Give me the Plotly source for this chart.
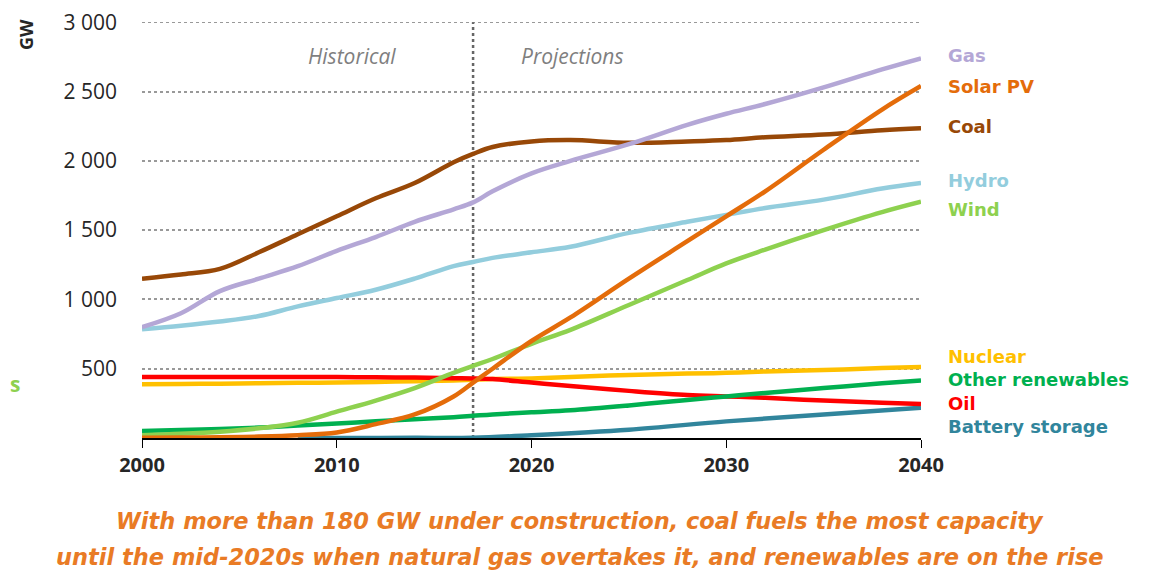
import plotly.graph_objects as go

# installed capacity, GW
years = [2000, 2002, 2004, 2006, 2008, 2010, 2012, 2014, 2016, 2017, 2018,
         2020, 2022, 2025, 2028, 2030, 2032, 2035, 2038, 2040]

gas = [800, 900, 1060, 1150, 1240, 1350, 1450, 1560, 1650, 1700, 1780,
       1910, 2000, 2120, 2260, 2340, 2410, 2530, 2660, 2740]
solar = [2, 3, 5, 10, 20, 40, 100, 170, 300, 400, 500,
         700, 870, 1150, 1420, 1600, 1780, 2080, 2370, 2540]
coal = [1150, 1180, 1220, 1340, 1470, 1600, 1730, 1840, 1990, 2050, 2100,
        2140, 2150, 2130, 2140, 2150, 2170, 2190, 2220, 2235]
hydro = [785, 810, 840, 880, 950, 1010, 1070, 1150, 1240, 1270, 1300,
         1340, 1380, 1480, 1560, 1610, 1660, 1720, 1800, 1840]
wind = [20, 30, 45, 70, 110, 190, 270, 360, 470, 520, 570,
        680, 780, 960, 1140, 1260, 1360, 1500, 1630, 1705]
nuclear = [388, 390, 392, 395, 398, 400, 405, 410, 415, 420, 425,
           430, 440, 455, 465, 470, 480, 490, 505, 512]
other_ren = [50, 58, 65, 75, 90, 105, 120, 135, 150, 160, 170,
             185, 200, 235, 275, 300, 325, 360, 395, 415]
oil = [440, 440, 440, 440, 440, 440, 438, 436, 432, 430, 425,
       400, 375, 340, 310, 300, 290, 270, 255, 245]
batt_years = [2008, 2010, 2014, 2017, 2020, 2025, 2030, 2035, 2040]
battery = [0, 0, 1, 2, 20, 60, 120, 170, 218]

colors = {"Gas": "#B4A7D6", "Solar PV": "#E46C0A", "Coal": "#984807",
          "Hydro": "#93CDDD", "Wind": "#8ED14F", "Nuclear": "#FFC000",
          "Other renewables": "#00B050", "Oil": "#FF0000",
          "Battery storage": "#31859C"}
values = {"Gas": gas, "Solar PV": solar, "Coal": coal, "Hydro": hydro,
          "Wind": wind, "Nuclear": nuclear, "Other renewables": other_ren,
          "Oil": oil}
label_y = {"Gas": 2760, "Solar PV": 2538, "Coal": 2250, "Hydro": 1860,
           "Wind": 1650}
bottom_labels = ["Nuclear", "Other renewables", "Oil", "Battery storage"]

fig = go.Figure()

# top gridline (plotly drops the one sitting on the plot edge)
fig.add_shape(type="line", x0=0, x1=1, xref="paper", y0=3000, y1=3000,
              line=dict(color="#999999", width=1.5, dash="dot"), layer="below")
# historical / projections divider
fig.add_shape(type="line", x0=2017, x1=2017, y0=0, y1=3000,
              line=dict(color="#666666", width=2.5, dash="dot"), layer="below")

fig.add_trace(go.Scatter(x=batt_years, y=battery, mode="lines", line_shape="spline",
                         line=dict(color=colors["Battery storage"], width=4.5)))
for name in ["Nuclear", "Oil", "Other renewables", "Hydro", "Coal", "Gas", "Wind", "Solar PV"]:
    fig.add_trace(go.Scatter(x=years, y=values[name], mode="lines", line_shape="spline",
                             line=dict(color=colors[name], width=4.5), name=name))

label_font = dict(family="DejaVu Sans", size=18)
for name, yv in label_y.items():
    fig.add_annotation(x=1, xref="paper", xshift=25, y=yv, yref="y",
                       text="<b>" + name + "</b>", showarrow=False,
                       xanchor="left", yanchor="middle",
                       font=dict(color=colors[name], **label_font))
# tightly stacked labels as one block
block = "<br>".join('<span style="color:%s"><b>%s</b></span>' % (colors[n], n)
                    for n in bottom_labels)
fig.add_annotation(x=1, xref="paper", xshift=25, y=339, yref="y",
                   text=block, showarrow=False, align="left",
                   xanchor="left", yanchor="middle", font=label_font)

fig.add_annotation(x=2010.8, y=2760, text="<i>Historical</i>", showarrow=False,
                   xanchor="center", yanchor="middle",
                   font=dict(family="Open Sans", size=21, color="#7F7F7F"))
fig.add_annotation(x=2022.1, y=2760, text="<i>Projections</i>", showarrow=False,
                   xanchor="center", yanchor="middle",
                   font=dict(family="Open Sans", size=21, color="#7F7F7F"))

# GW axis title (cut off at the edge in the original)
fig.add_annotation(x=0, xref="paper", xshift=-116, y=1, yref="paper", yshift=-13,
                   text="<b>GW</b>", textangle=-90, showarrow=False,
                   xanchor="center", yanchor="middle",
                   font=dict(family="Open Sans", size=18, color="#262626"))
fig.add_annotation(x=0, xref="paper", xshift=-134, y=390, yref="y",
                   text="<b>s</b>", showarrow=False, xanchor="left", yanchor="middle",
                   font=dict(family="Open Sans", size=21, color="#8ED14F"))

caption_font = dict(family="DejaVu Sans", size=22.5, color="#E97B25")
fig.add_annotation(x=0.5, xref="paper", xshift=48, y=0, yref="paper", yshift=-83,
                   text="<b><i>With more than 180 GW under construction, coal fuels the most capacity</i></b>",
                   showarrow=False, xanchor="center", yanchor="middle", font=caption_font)
fig.add_annotation(x=0.5, xref="paper", xshift=48, y=0, yref="paper", yshift=-119,
                   text="<b><i>until the mid-2020s when natural gas overtakes it, and renewables are on the rise</i></b>",
                   showarrow=False, xanchor="center", yanchor="middle", font=caption_font)

fig.update_layout(
    width=1147, height=567, showlegend=False,
    plot_bgcolor="white", paper_bgcolor="white",
    margin=dict(l=134, r=234, t=14, b=137),
    separators=". ",
    font=dict(family="Open Sans", color="#262626"),
)
fig.update_xaxes(range=[2000, 2040], tickvals=[2000, 2010, 2020, 2030, 2040],
                 showgrid=False, showline=True, linecolor="black", linewidth=1.5,
                 ticks="outside", ticklen=8, tickcolor="black",
                 tickfont=dict(size=20, family="Open Sans", color="#262626"),
                 ticktext=["<b>2000</b>", "<b>2010</b>", "<b>2020</b>", "<b>2030</b>", "<b>2040</b>"],
                 zeroline=False, automargin=False)
fig.update_yaxes(range=[0, 3002], tickvals=[500, 1000, 1500, 2000, 2500, 3000],
                 tickformat=",d", showgrid=True, gridcolor="#999999", gridwidth=1.5,
                 griddash="dot", zeroline=False, showline=False,
                 ticklabelstandoff=24, ticklabeloverflow="allow", automargin=False,
                 tickfont=dict(size=21, family="Open Sans", color="#262626"))

fig.write_html("out.html")
